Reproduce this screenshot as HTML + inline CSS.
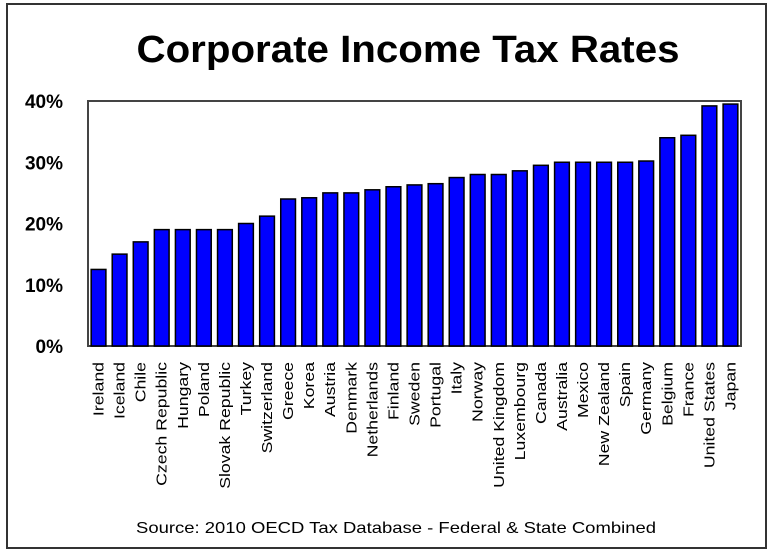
<!DOCTYPE html>
<html><head><meta charset="utf-8"><style>
body{margin:0;background:#fff;}
svg{display:block;font-family:"Liberation Sans",Arial,sans-serif;}
</style></head><body>
<svg id="chart" width="774" height="555" viewBox="0 0 774 555">
<rect x="7" y="4" width="759" height="544" fill="#fff" stroke="#333" stroke-width="2"/>
<text x="408" y="62" text-anchor="middle" font-size="38" font-weight="bold" textLength="543" lengthAdjust="spacingAndGlyphs">Corporate Income Tax Rates</text>
<rect x="88" y="101" width="653" height="245" fill="#fff" stroke="#444" stroke-width="2"/>
<g id="bars"></g><g id="yt"></g><g id="xl"></g>
<text x="396" y="533" text-anchor="middle" font-size="16" textLength="520" lengthAdjust="spacingAndGlyphs">Source:  2010 OECD  Tax Database - Federal &amp; State Combined</text>
</svg>
<script>
const categories=["Ireland","Iceland","Chile","Czech Republic","Hungary","Poland","Slovak Republic","Turkey","Switzerland","Greece","Korea","Austria","Denmark","Netherlands","Finland","Sweden","Portugal","Italy","Norway","United Kingdom","Luxembourg","Canada","Australia","Mexico","New Zealand","Spain","Germany","Belgium","France","United States","Japan"];
const values=[12.5,15,17,19,19,19,19,20,21.2,24,24.2,25,25,25.5,26,26.3,26.5,27.5,28,28,28.6,29.5,30,30,30,30,30.2,34,34.4,39.2,39.5];
const ticks=[0,10,20,30,40];
const tickLabels=["0%","10%","20%","30%","40%"];
const NS="http://www.w3.org/2000/svg";
const L=88,R=741,T=101,B=346,MAX=40;
const y=v=>B-(v/MAX)*(B-T);
const slot=(R-L)/categories.length;
const xc=i=>L+slot*(i+0.5);
const bw=slot*0.7;
const bars=document.getElementById('bars'),yt=document.getElementById('yt'),xl=document.getElementById('xl');
values.forEach((v,i)=>{
 const r=document.createElementNS(NS,'rect');
 r.setAttribute('x',xc(i)-bw/2);r.setAttribute('y',y(v));r.setAttribute('width',bw);r.setAttribute('height',B-y(v));
 r.setAttribute('fill','#0000ff');r.setAttribute('stroke','#000');r.setAttribute('stroke-width','1.5');
 
 
 bars.appendChild(r);
 const t=document.createElementNS(NS,'text');
 t.setAttribute('transform','translate('+(xc(i)+5)+',362) rotate(-90) scale(1.18,1)');
 t.setAttribute('text-anchor','end');t.setAttribute('font-size','15');
 t.textContent=categories[i];
 
 
 xl.appendChild(t);
});
ticks.forEach((v,i)=>{
 const t=document.createElementNS(NS,'text');
 t.setAttribute('x',63);t.setAttribute('y',y(v)+7);t.setAttribute('text-anchor','end');
 t.setAttribute('font-size','19');t.setAttribute('font-weight','bold');
 t.textContent=tickLabels[i];
 
 
 yt.appendChild(t);
});
</script>
</body></html>
